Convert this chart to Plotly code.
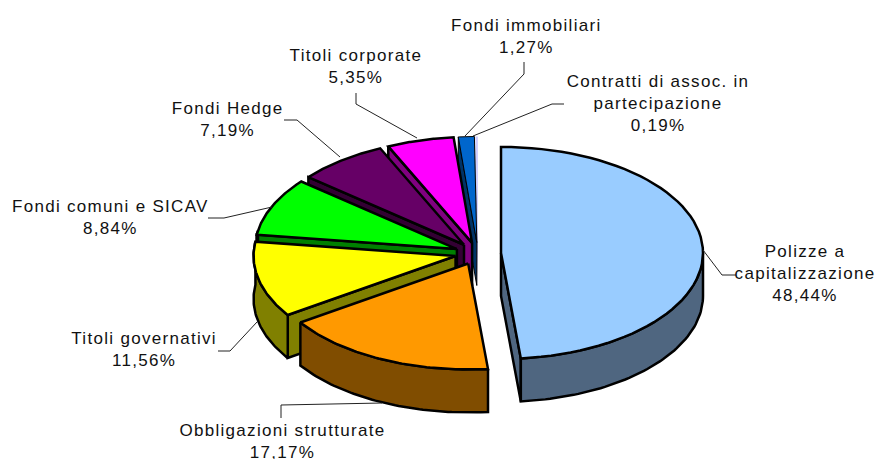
import math
import plotly.graph_objects as go

categories = ["Polizze a<br>capitalizzazione", "Obbligazioni strutturate", "Titoli governativi",
              "Fondi comuni e SICAV", "Fondi Hedge", "Titoli corporate", "Fondi immobiliari",
              "Contratti di assoc. in<br>partecipazione"]
values = [48.44, 17.17, 11.56, 8.84, 7.19, 5.35, 1.27, 0.19]
top_colors = ["#99CCFF", "#FF9900", "#FFFF00", "#00FF00", "#660066", "#FF00FF", "#0066CC", "#CCCCFF"]
wall_colors = ["#4F6680", "#804D00", "#808000", "#008000", "#330033", "#800080", "#003366", "#9999CC"]

# pie projection, in page pixels
CX, CY, RX, RY, DEPTH = 478, 253.5, 202, 106, 43
EXPLODE_X, EXPLODE_Y = 0.114, 0.104
W, H = 875, 459
label_pos = [(805, 273), (282, 441), (144, 349), (110, 217), (227, 119), (356, 66), (526, 36), (658, 103)]
leaders = [
    [(703, 250), (722, 275), (736, 275)],
    [(382, 403), (281, 405), (281, 418)],
    [(257, 322), (230, 351), (218, 351)],
    [(272, 207), (224, 218), (208, 218)],
    [(340, 157), (297, 120), (284, 120)],
    [(417, 138), (356, 104), (356, 93)],
    [(465, 136), (524, 74), (524, 62)],
    [(473, 136), (552, 104), (564, 104)],
]

total = sum(values)


def pt(theta, ox, oy, dy=0.0):
    t = math.radians(theta)
    return ox + RX * math.sin(t), oy - RY * math.cos(t) + dy


def arc(a, b, ox, oy, dy=0.0, n=60):
    return [pt(a + (b - a) * i / n, ox, oy, dy) for i in range(n + 1)]


def poly(points, color, width):
    xs = [p[0] for p in points] + [points[0][0]]
    ys = [p[1] for p in points] + [points[0][1]]
    return go.Scatter(x=xs, y=ys, mode="lines", fill="toself", fillcolor=color,
                      line=dict(color="black" if width else color, width=width),
                      hoverinfo="skip", showlegend=False)


slices = []
start = 0.0
for v in values:
    end = start + v / total * 360
    slices.append((start, end))
    start = end

fig = go.Figure()
for i in reversed(range(len(values))):
    a, b = slices[i]
    v = values[i]
    lw = 0 if v < 1 else (1 if v < 2 else 2.5)
    mid = math.radians((a + b) / 2)
    ox = CX + EXPLODE_X * RX * math.sin(mid)
    oy = CY - EXPLODE_Y * RY * math.cos(mid)
    wall = wall_colors[i]
    # radial faces that face the viewer
    for th, seen in ((a, 180 < a < 360), (b, 0 < b < 180)):
        if seen:
            c = pt(th, ox, oy)
            fig.add_trace(poly([(ox, oy), c, (c[0], c[1] + DEPTH), (ox, oy + DEPTH)], wall, lw))
    # outer rim where it faces the viewer
    ra, rb = max(a, 90), min(b, 280)
    if rb > ra:
        fig.add_trace(poly(arc(ra, rb, ox, oy) + arc(ra, rb, ox, oy, DEPTH)[::-1], wall, lw))
    # top face
    fig.add_trace(poly([(ox, oy)] + arc(a, b, ox, oy), top_colors[i], lw))

for i, path in enumerate(leaders):
    fig.add_trace(go.Scatter(x=[p[0] for p in path], y=[p[1] for p in path], mode="lines",
                             line=dict(color="#222222", width=1), hoverinfo="skip", showlegend=False))
    pct = f"{values[i]:.2f}".replace(".", ",") + "%"
    fig.add_annotation(x=label_pos[i][0], y=label_pos[i][1], xref="x", yref="y",
                       text=f"{categories[i]}<br>{pct}", showarrow=False, align="center",
                       xanchor="center", yanchor="middle",
                       font=dict(family="Liberation Sans", size=17, color="#111111"))

fig.update_layout(
    width=W, height=H, margin=dict(l=0, r=0, t=0, b=0),
    paper_bgcolor="white", plot_bgcolor="white", showlegend=False,
    xaxis=dict(range=[0, W], visible=False, fixedrange=True),
    yaxis=dict(range=[H, 0], visible=False, fixedrange=True),
)
fig.write_html("out.html", config={"displayModeBar": False},
               post_script="document.querySelectorAll('.annotation-text').forEach(function(e){e.style.letterSpacing='1.3px';});"
                           "document.body.style.margin='0';")
